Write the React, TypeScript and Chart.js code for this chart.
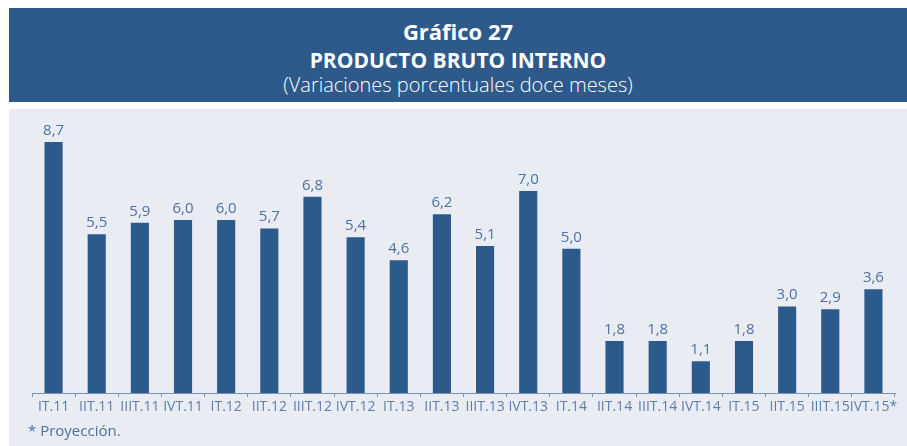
import React, { useEffect, useRef } from "react";
import { Chart, registerables } from "chart.js";

Chart.register(...registerables);

const categories = [
  "IT.11", "IIT.11", "IIIT.11", "IVT.11", "IT.12", "IIT.12", "IIIT.12", "IVT.12",
  "IT.13", "IIT.13", "IIIT.13", "IVT.13", "IT.14", "IIT.14", "IIIT.14", "IVT.14",
  "IT.15", "IIT.15", "IIIT.15", "IVT.15*",
];
const pbiValues = [8.7, 5.5, 5.9, 6.0, 6.0, 5.7, 6.8, 5.4, 4.6, 6.2, 5.1, 7.0, 5.0, 1.8, 1.8, 1.1, 1.8, 3.0, 2.9, 3.6];

const titleLine1 = "Gráfico 27";
const titleLine2 = "PRODUCTO BRUTO INTERNO";
const titleLine3 = "(Variaciones porcentuales doce meses)";
const footnote = "* Proyección.";

const BAR = "#2c5a8b";
const LABEL = "#4d72a1";
const FONT = "'Open Sans', 'Noto Sans', sans-serif";

const valueLabels = {
  id: "valueLabels",
  afterDatasetsDraw(chart: any) {
    const ctx = chart.ctx;
    const meta = chart.getDatasetMeta(0);
    ctx.save();
    ctx.font = `15px ${FONT}`;
    ctx.fillStyle = LABEL;
    ctx.textAlign = "center";
    ctx.textBaseline = "bottom";
    meta.data.forEach((el: any, i: number) => {
      const v = chart.data.datasets[0].data[i] as number;
      ctx.fillText(v.toFixed(1).replace(".", ","), el.x, el.y - 4);
    });
    ctx.restore();
  },
};

export default function App() {
  const ref = useRef<HTMLCanvasElement>(null);
  useEffect(() => {
    if (!ref.current) return;
    const chart = new Chart(ref.current, {
      type: "bar",
      data: {
        labels: categories,
        datasets: [
          {
            data: pbiValues,
            backgroundColor: BAR,
            categoryPercentage: 1,
            barPercentage: 0.42,
          },
        ],
      },
      options: {
        animation: false,
        responsive: false,
        maintainAspectRatio: false,
        layout: { padding: { left: 23, right: 12, top: 10, bottom: 0 } },
        plugins: { legend: { display: false }, tooltip: { enabled: false } },
        scales: {
          x: {
            offset: true,
            grid: {
              display: true,
              offset: true,
              drawOnChartArea: false,
              drawTicks: true,
              tickLength: 4,
              color: "#7d93b5",
            },
            border: { display: true, color: "#7d93b5", width: 1 },
            ticks: {
              color: "#5f7fab",
              font: { family: FONT, size: 14 },
              padding: 2,
              maxRotation: 0,
              autoSkip: false,
            },
            afterFit: (scale: any) => {
              scale.height = 53;
            },
          },
          y: { display: false, min: 0, max: 9.5 },
        },
      },
      plugins: [valueLabels],
    });
    return () => chart.destroy();
  }, []);

  return (
    <div style={{ position: "absolute", left: 0, top: 0, width: 907, height: 446, background: "#fff", fontFamily: FONT }}>
      <div
        style={{
          position: "absolute",
          left: 9,
          top: 8,
          width: 898,
          height: 94,
          background: "#2d5a8a",
          color: "#fff",
          textAlign: "center",
        }}
      >
        <div style={{ position: "absolute", left: 0, right: 0, top: 10, fontSize: 22, fontWeight: 700, lineHeight: "26px" }}>{titleLine1}</div>
        <div style={{ position: "absolute", left: 0, right: 0, top: 39, fontSize: 21, fontWeight: 700, lineHeight: "26px" }}>{titleLine2}</div>
        <div style={{ position: "absolute", left: 0, right: 0, top: 64, fontSize: 20, fontWeight: 300, lineHeight: "26px" }}>{titleLine3}</div>
      </div>
      <div style={{ position: "absolute", left: 9, top: 109, width: 898, height: 337, background: "#e9ecf2" }}>
        <canvas ref={ref} width={898} height={337} style={{ position: "absolute", left: 0, top: 0, width: 898, height: 337 }} />
        <div style={{ position: "absolute", left: 19, top: 311, fontSize: 15, color: "#4d72a1", lineHeight: "20px" }}>{footnote}</div>
      </div>
    </div>
  );
}
